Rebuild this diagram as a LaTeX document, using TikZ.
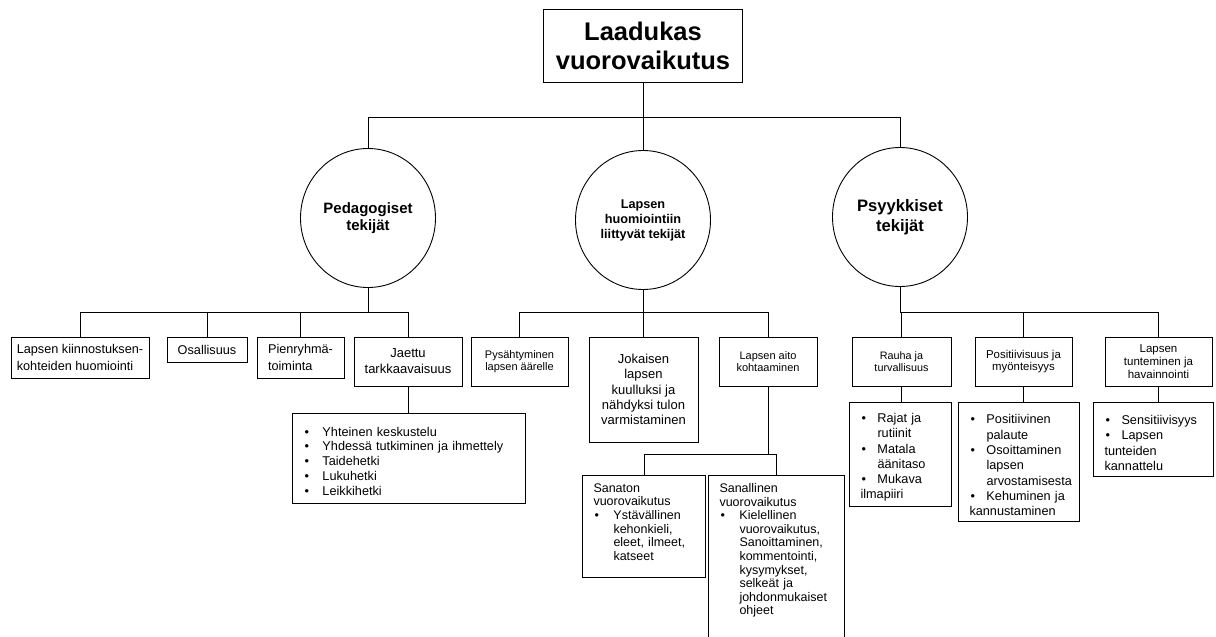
\documentclass[tikz,border=0pt]{standalone}
\usepackage{fontspec}
\setmainfont{Liberation Sans}
\usetikzlibrary{shapes.geometric}
\hyphenpenalty=10000
\exhyphenpenalty=10000
\newcommand{\koko}[2]{\fontsize{#1}{#2}\selectfont}
\newcommand{\kohta}[2][18pt]{\par\noindent\hangindent=#1\hangafter=1\makebox[#1][l]{\hspace{1pt}\textbullet}#2}

\begin{document}
\begin{tikzpicture}[x=1pt,y=-1pt,line width=1pt,
  laatikko/.style={draw,inner sep=0pt,align=center},
  pallo/.style={draw,ellipse,minimum width=135pt,minimum height=139pt,inner sep=0pt,align=center,line width=0.9pt},
  lista/.style={draw,anchor=north west,inner xsep=11pt,inner ysep=6pt,align=left}]
  \useasboundingbox (0,0) rectangle (1216,637);
  % otsikko
  \node[laatikko,minimum width=199pt,minimum height=73pt,font=\bfseries\koko{25.5}{29}] (otsikko) at (643,45.5) {Laadukas\\vuorovaikutus};
  % tekijät
  \node[pallo,font=\bfseries\koko{15}{17}] (ped) at (368,218) {Pedagogiset\\tekijät};
  \node[pallo,font=\bfseries\koko{12.7}{15}] (lap) at (643,220) {Lapsen\\huomiointiin\\liittyvät tekijät};
  \node[pallo,font=\bfseries\koko{16.6}{20}] (psy) at (900,217) {Psyykkiset\\tekijät};
  \coordinate (h1) at (643,117);
  \draw (otsikko) -- (h1);
  \foreach \n in {ped,lap,psy}
    \draw (h1) -| (\n);
  % pedagogiset
  \node[laatikko,align=left,minimum width=138pt,minimum height=41pt,font=\koko{12.7}{16.5}] (kiin) at (80,357.5) {Lapsen kiinnostuksen-\\kohteiden huomiointi};
  \node[laatikko,minimum width=80pt,minimum height=25pt,font=\koko{12.7}{16.5}] (osa) at (207,349.5) {Osallisuus};
  \node[laatikko,align=left,minimum width=87pt,minimum height=41pt,font=\koko{12.7}{16.5}] (pie) at (300.5,357.5) {Pienryhmä-\\toiminta};
  \node[laatikko,minimum width=108pt,minimum height=49pt,font=\koko{13}{16}] (jae) at (408,361.5) {Jaettu\\tarkkaavaisuus};
  \node[lista,text width=211pt,inner ysep=8pt,font=\koko{12.7}{14.7}] (jael) at (292,413) {%
    \kohta[19pt]{Yhteinen keskustelu}
    \kohta[19pt]{Yhdessä tutkiminen ja ihmettely}
    \kohta[19pt]{Taidehetki}
    \kohta[19pt]{Lukuhetki}
    \kohta[19pt]{Leikkihetki}};
  \coordinate (h2) at (368,312);
  \draw (ped) -- (h2);
  \foreach \n in {kiin,osa,pie,jae}
    \draw (h2) -| (\n);
  \draw (jae) -- (jae |- jael.north);
  % lapsen huomiointi
  \node[laatikko,minimum width=97pt,minimum height=49pt,font=\koko{11}{12.3}] (pys) at (519.5,361.5) {Pysähtyminen\\lapsen äärelle};
  \node[laatikko,minimum width=109pt,minimum height=105pt,font=\koko{13}{15.3}] (jok) at (643.5,389.5) {Jokaisen\\lapsen\\kuulluksi ja\\nähdyksi tulon\\varmistaminen};
  \node[laatikko,minimum width=98pt,minimum height=49pt,font=\koko{11}{12.3}] (aito) at (768,361.5) {Lapsen aito\\kohtaaminen};
  \node[lista,text width=101pt,inner ysep=8pt,font=\koko{12.5}{13.6}] (san) at (582,475) {%
    Sanaton\\vuorovaikutus
    \kohta[20pt]{Ystävällinen\newline kehonkieli,\newline eleet, ilmeet,\newline katseet}\par
    \vspace{-4pt}\rule{0pt}{1pt}};
  \node[lista,text width=114pt,inner ysep=8pt,font=\koko{12.5}{13.6}] (sal) at (708,475) {%
    Sanallinen\\vuorovaikutus
    \kohta[20pt]{Kielellinen\newline vuorovaikutus,\newline Sanoittaminen,\newline kommentointi,\newline kysymykset,\newline selkeät ja\newline johdonmukaiset\newline ohjeet}\par
    \rule{0pt}{30pt}};
  \coordinate (h3) at (643,312);
  \draw (lap) -- (h3);
  \foreach \n in {pys,jok,aito}
    \draw (h3) -| (\n);
  \coordinate (h5) at (768,454);
  \draw (aito) -- (h5);
  \draw (h5) -| (san);
  \draw (h5) -| (sal);
  % psyykkiset
  \node[laatikko,minimum width=99pt,minimum height=49pt,font=\koko{10.8}{12.3}] (rau) at (901.5,361.5) {Rauha ja\\turvallisuus};
  \node[laatikko,minimum width=97pt,minimum height=49pt,font=\koko{11.4}{12.3}] (pos) at (1023.5,361.5) {Positiivisuus ja\\myönteisyys};
  \node[laatikko,minimum width=107pt,minimum height=49pt,font=\koko{11.5}{13.3}] (tun) at (1158.5,361.5) {Lapsen\\tunteminen ja\\havainnointi};
  \node[lista,text width=80pt,inner ysep=5pt,font=\koko{12.7}{15.2}] (raul) at (849,402) {%
    \kohta[17pt]{Rajat ja\newline rutiinit}
    \kohta[17pt]{Matala\newline äänitaso}
    \kohta[17pt]{Mukava\newline ilmapiiri}};
  \node[lista,text width=99pt,font=\koko{12.7}{15.3}] (posl) at (958,402) {%
    \kohta[17pt]{Positiivinen\newline palaute}
    \kohta[17pt]{Osoittaminen\newline lapsen\newline arvostamisesta}
    \kohta[17pt]{Kehuminen ja\newline kannustaminen}};
  \node[lista,text width=98pt,font=\koko{12.7}{15.5}] (tunl) at (1093,402) {%
    \kohta[17pt]{Sensitiivisyys}
    \kohta[17pt]{Lapsen\newline tunteiden\newline kannattelu}};
  \coordinate (h4) at (900,312);
  \draw (psy) -- (h4);
  \foreach \n in {rau,pos,tun}
    \draw (h4) -| (\n);
  \draw (rau) -- (rau |- raul.north);
  \draw (pos) -- (pos |- posl.north);
  \draw (tun) -- (tun |- tunl.north);
\end{tikzpicture}
\end{document}
